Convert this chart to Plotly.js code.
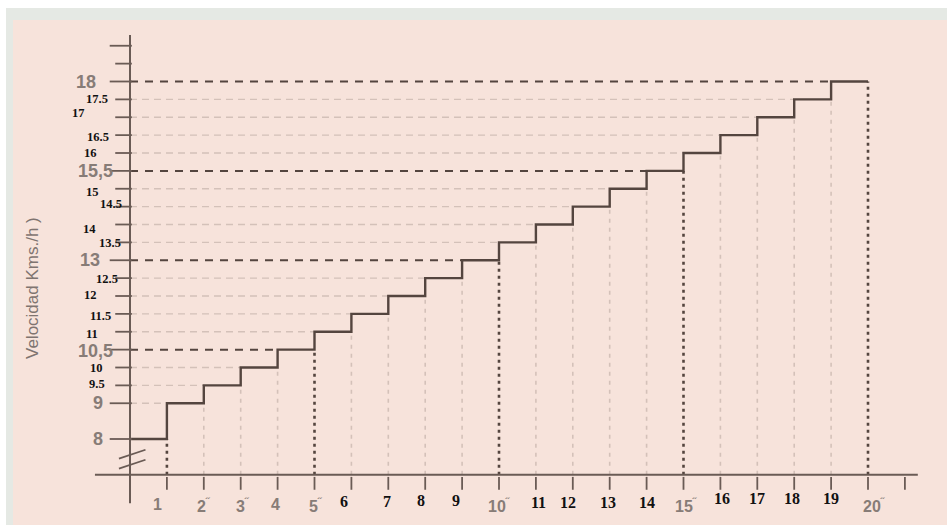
<!DOCTYPE html>
<html>
<head>
<meta charset="utf-8">
<script src="https://cdn.plot.ly/plotly-3.0.1.min.js"></script>
<style>
html,body{margin:0;padding:0;background:#f7e3db;}
#chart{width:947px;height:525px;}
</style>
</head>
<body>
<div id="chart"></div>
<script>
// ---------- DATA ----------
const minutes = [0, 1, 2, 3, 4, 5, 6, 7, 8, 9, 10, 11, 12, 13, 14, 15, 16, 17, 18, 19, 20];
// speed (Kms/h) held during each one-minute interval [m, m+1)
const speedBySegment = [8, 9, 9.5, 10, 10.5, 11, 11.5, 12, 12.5, 13, 13.5, 14, 14.5, 15, 15.5, 16, 16.5, 17, 17.5, 18];
// y tick labels
const yLabelVals = [8, 9, 9.5, 10, 10.5, 11, 11.5, 12, 12.5, 13, 13.5, 14, 14.5, 15, 15.5, 16, 16.5, 17, 17.5, 18];
const yLabelText = ['8', '9', '9.5', '10', '10,5', '11', '11.5', '12', '12.5', '13', '13.5', '14', '14.5', '15', '15,5', '16', '16.5', '17', '17.5', '18'];
const yExtraTicks = [18.5, 19];
// x tick labels
const xLabelVals = [1, 2, 3, 4, 5, 6, 7, 8, 9, 10, 11, 12, 13, 14, 15, 16, 17, 18, 19, 20];
const xLabelText = ['1', '2"', '3"', '4', '5"', '6', '7', '8', '9', '10"', '11', '12', '13', '14', '15"', '16', '17', '18', '19', '20"'];
const xExtraTicks = [21];
const yTitle = 'Velocidad Kms./h )';

// ---------- STYLE ----------
const boldLevels = [10.5, 13, 15.5, 18];
const boldMinutes = [1, 5, 10, 15, 20];
const grayYLabels = [8, 9, 10.5, 13, 15.5, 18];
const grayXLabels = [1, 2, 3, 4, 5, 10, 15, 20];
// per-label pixel nudges (the original labels were pasted by hand)
const yLabelDx = [-32, -32, -33, -34, -35, -38, -30, -40, -23, -40, -20, -41, -19, -38, -35, -40, -32, -52, -33, -44];
const yLabelDy = [0, 0, 1, 0, -1, -2, -2, 1, -1, 0, -1, -4, 3, -3, 0, 0, -2, 4, 0, 0];
const xLabelDx = [-9, 0, 2, -2, 1, -7, -1, -4, -6, 0, 3, -5, -2, 0, 3, 2, 0, -2, 0, 6];
const xLabelDy = [-30, -30, -30, -30, -30, -27, -27, -26, -26, -30, -28, -28, -28, -28, -30, -24, -24, -24, -24, -30];

const axisBase = 7;      // where the horizontal axis crosses (axis broken below 8)
const darkInk = '#54453f';
const axisInk = '#6a5b55';
const faintInk = '#d4c1b9';
const grayText = '#877c77';

// ---------- TRACES ----------
const stepX = minutes.slice();
const stepY = speedBySegment.concat([speedBySegment[speedBySegment.length - 1]]);

function guides(filterBold) {
  const hx = [], hy = [];
  yLabelVals.forEach(v => {
    if (boldLevels.includes(v) !== filterBold) return;
    const i = speedBySegment.indexOf(v);
    if (i <= 0) return;
    hx.push(0, minutes[i], null); hy.push(v, v, null);
  });
  const vx = [], vy = [];
  minutes.forEach((m, k) => {
    if (k === 0) return;
    if (boldMinutes.includes(m) !== filterBold) return;
    vx.push(m, m, null); vy.push(axisBase, speedBySegment[k - 1], null);
  });
  return {hx, hy, vx, vy};
}
const faint = guides(false);
const bold = guides(true);

const traces = [
  {x: faint.hx, y: faint.hy, mode: 'lines', line: {color: faintInk, width: 1.3, dash: '7px,5px'}, hoverinfo: 'skip'},
  {x: faint.vx, y: faint.vy, mode: 'lines', line: {color: faintInk, width: 1.6, dash: '4px,5px'}, hoverinfo: 'skip'},
  {x: bold.hx, y: bold.hy, mode: 'lines', line: {color: darkInk, width: 2, dash: '8px,7px'}, hoverinfo: 'skip'},
  {x: bold.vx, y: bold.vy, mode: 'lines', line: {color: darkInk, width: 2.6, dash: '3px,4px'}, hoverinfo: 'skip'},
  {x: stepX, y: stepY, mode: 'lines', line: {shape: 'hv', color: darkInk, width: 2.4}, hoverinfo: 'skip'}
];

// ---------- AXES (drawn by hand: axes cross inside the frame) ----------
const shapes = [];
// frame of the scanned page
shapes.push({type: 'rect', xref: 'paper', yref: 'paper', x0: 0, x1: 1, y0: 1 - 8 / 525, y1: 1, fillcolor: '#ffffff', line: {width: 0}, layer: 'below'});
shapes.push({type: 'rect', xref: 'paper', yref: 'paper', x0: 6 / 947, x1: 1, y0: 1 - 20 / 525, y1: 1 - 8 / 525, fillcolor: '#e5e9e4', line: {width: 0}, layer: 'below'});
shapes.push({type: 'rect', xref: 'paper', yref: 'paper', x0: 0, x1: 6 / 947, y0: 0, y1: 1 - 8 / 525, fillcolor: '#ffffff', line: {width: 0}, layer: 'below'});
shapes.push({type: 'rect', xref: 'paper', yref: 'paper', x0: 6 / 947, x1: 13 / 947, y0: 0, y1: 1 - 8 / 525, fillcolor: '#e5e9e4', line: {width: 0}, layer: 'below'});
// axis lines
shapes.push({type: 'line', xref: 'x', yref: 'y', x0: 0, x1: 0, y0: 6.2, y1: 19.3, line: {color: axisInk, width: 2}});
shapes.push({type: 'line', xref: 'x', yref: 'y', x0: -0.95, x1: 21.35, y0: axisBase, y1: axisBase, line: {color: axisInk, width: 2}});
// y ticks
yLabelVals.concat(yExtraTicks).forEach(v => {
  const major = grayYLabels.includes(v) || v === 19;
  shapes.push({type: 'line', xref: 'x', yref: 'y', x0: major ? -0.55 : -0.4, x1: 0.05, y0: v, y1: v, line: {color: axisInk, width: 1.8}});
});
// x ticks
xLabelVals.concat(xExtraTicks).forEach(m => {
  shapes.push({type: 'line', xref: 'x', yref: 'y', x0: m, x1: m, y0: axisBase - 0.06, y1: axisBase - 0.42, line: {color: axisInk, width: 1.8}});
});
// axis break marks
shapes.push({type: 'line', xref: 'x', yref: 'y', x0: -0.3, x1: 0.42, y0: 7.45, y1: 7.7, line: {color: axisInk, width: 1.8}});
shapes.push({type: 'line', xref: 'x', yref: 'y', x0: -0.3, x1: 0.42, y0: 7.17, y1: 7.42, line: {color: axisInk, width: 1.8}});

// ---------- LABELS ----------
const annotations = [];
yLabelVals.forEach((v, i) => {
  const gray = grayYLabels.includes(v);
  annotations.push({
    x: 0, y: v, xref: 'x', yref: 'y', text: yLabelText[i], showarrow: false,
    xanchor: 'center', yanchor: 'middle', xshift: yLabelDx[i], yshift: yLabelDy[i],
    font: gray ? {family: 'Liberation Sans, Arial, sans-serif', size: 18, color: grayText, weight: 'bold'}
               : {family: 'Liberation Serif, Times New Roman, serif', size: 12.5, color: '#111111', weight: 'bold'}
  });
});
xLabelVals.forEach((m, i) => {
  const gray = grayXLabels.includes(m);
  let txt = xLabelText[i];
  if (gray && txt.endsWith('"')) txt = txt.slice(0, -1) + '<sup>\u02DD</sup>';
  annotations.push({
    x: m, y: axisBase, xref: 'x', yref: 'y', text: txt, showarrow: false,
    xanchor: 'center', yanchor: 'middle', xshift: xLabelDx[i], yshift: xLabelDy[i],
    font: gray ? {family: 'Liberation Sans, Arial, sans-serif', size: 16, color: grayText, weight: 'bold'}
               : {family: 'Liberation Serif, Times New Roman, serif', size: 16, color: '#111111', weight: 'bold'}
  });
});
annotations.push({
  x: 32 / 947, y: 1 - 288 / 525, xref: 'paper', yref: 'paper', text: yTitle, showarrow: false,
  textangle: -90, xanchor: 'center', yanchor: 'middle',
  font: {family: 'Liberation Sans, Arial, sans-serif', size: 17, color: '#7f7470'}
});

const layout = {
  width: 947, height: 525,
  margin: {l: 0, r: 0, t: 0, b: 0},
  paper_bgcolor: '#f7e3db', plot_bgcolor: 'rgba(0,0,0,0)',
  showlegend: false,
  xaxis: {range: [-130 / 36.9, (947 - 130) / 36.9], visible: false, fixedrange: true},
  yaxis: {range: [8 - 86 / 35.75, 8 + 439 / 35.75], visible: false, fixedrange: true},
  shapes: shapes,
  annotations: annotations
};

Plotly.newPlot('chart', traces, layout, {displayModeBar: false, staticPlot: true});
</script>
</body>
</html>
